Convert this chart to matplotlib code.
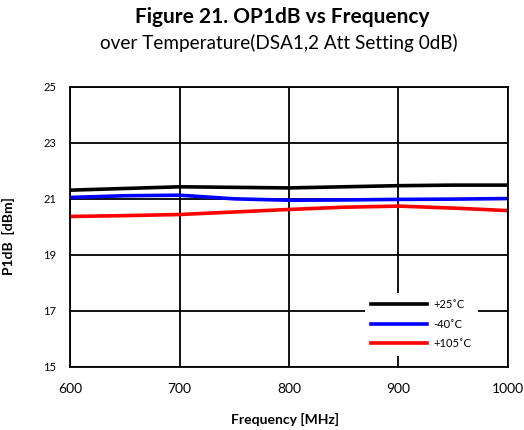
import matplotlib.pyplot as plt

freq = [600, 650, 700, 750, 800, 850, 900, 950, 1000]
p25 = [21.31, 21.37, 21.43, 21.41, 21.39, 21.43, 21.47, 21.49, 21.49]
m40 = [21.05, 21.11, 21.13, 21.00, 20.95, 20.96, 20.98, 20.99, 21.01]
p105 = [20.37, 20.40, 20.44, 20.53, 20.62, 20.70, 20.74, 20.67, 20.58]
labels = ['+25˚C', '-40˚C', '+105˚C']

plt.rcParams['font.family'] = ['Lato', 'DejaVu Sans']

fig = plt.figure(figsize=(5.24, 4.30), dpi=100)
ax = fig.add_axes([0.134, 0.147, 0.835, 0.651])

ax.plot(freq, p25, color='black', lw=2.6, label=labels[0])
ax.plot(freq, m40, color='blue', lw=2.6, label=labels[1])
ax.plot(freq, p105, color='red', lw=2.6, label=labels[2])

ax.set_xlim(600, 1000)
ax.set_ylim(15, 25)
ax.set_xticks([600, 700, 800, 900, 1000])
ax.set_yticks([15, 17, 19, 21, 23, 25])
ax.grid(True, color='black', lw=1.3)
ax.set_axisbelow(True)
for s in ax.spines.values():
    s.set_linewidth(1.3)
ax.tick_params(axis='x', length=0, labelsize=10, pad=12)
ax.tick_params(axis='y', length=0, labelsize=8, pad=10)

ax.set_xlabel('Frequency [MHz]', fontsize=10, fontweight='bold')
ax.xaxis.set_label_coords(0.492, -0.165)
ax.set_ylabel('P1dB  [dBm]', fontsize=10, fontweight='bold')
ax.yaxis.set_label_coords(-0.126, 0.468)

leg = ax.legend(loc='lower right', bbox_to_anchor=(0.945, 0.02), fontsize=8,
                frameon=True, framealpha=1, edgecolor='none', fancybox=False,
                handlelength=5.0, handletextpad=0.6, labelspacing=0.75,
                borderpad=0.6)

fig.text(0.538, 0.96, 'Figure 21. OP1dB vs Frequency', ha='center', va='center',
         fontsize=15, fontweight='bold')
fig.text(0.533, 0.899, 'over Temperature(DSA1,2 Att Setting 0dB)', ha='center',
         va='center', fontsize=13.6)

fig.savefig('out.png', dpi=100)
